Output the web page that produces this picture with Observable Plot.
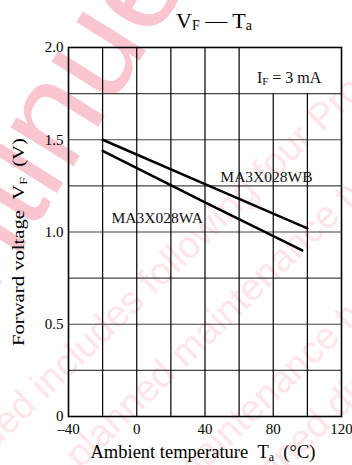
<!DOCTYPE html>
<html><head><meta charset="utf-8">
<script src="https://cdn.jsdelivr.net/npm/d3@7"></script>
<script src="https://cdn.jsdelivr.net/npm/@observablehq/plot@0.6"></script>
<style>
body{margin:0;background:#fff;}
#chart{position:relative;width:352px;height:465px;overflow:hidden;background:#fff;}
#chart svg{position:absolute;left:0;top:0;}
</style></head><body><div id="chart"></div>
<script>
// ---- data ----
const tempTicks = [-40, 0, 40, 80, 120];
const vfTicks = [0, 0.5, 1.0, 1.5, 2.0];
const gridTemps = [-20, 0, 20, 40, 60, 80, 100];
const gridVF = [0.25, 0.5, 0.75, 1.0, 1.25, 1.5, 1.75];
const wbTemp = [-20, 40, 100];
const wbVF = [1.50, 1.26, 1.02];
const waTemp = [-20, 40, 97];
const waVF = [1.44, 1.16, 0.90];
const seriesNames = ["MA3X028WB", "MA3X028WA"];
const seriesLabelTemp = [76, 12];
const seriesLabelVF = [1.30, 1.075];
const conditionTemp = 89.6;
const conditionVF = 1.83;

const wb = wbTemp.map((t, i) => ({t, v: wbVF[i]}));
const wa = waTemp.map((t, i) => ({t, v: waVF[i]}));
const labels = seriesNames.map((n, i) => ({n, t: seriesLabelTemp[i], v: seriesLabelVF[i]}));

const serif = "'Liberation Serif', 'Times New Roman', serif";
const chart = document.getElementById("chart");

// ---- watermark (background) ----
const wm = d3.select(chart).append("svg").attr("width", 352).attr("height", 465);
wm.append("text").attr("transform", "translate(-10,300) rotate(-58)")
  .attr("font-family", "'Liberation Sans', sans-serif").attr("font-size", 140)
  .attr("fill", "#f9c6d0").text("ntinued");
const wmLines = [
  ["Discontinued includes following four Product lifecycle stage.", -120, 560],
  ["planned maintenance type", 80, 470],
  ["maintenance type", 185, 490],
  ["planned discontinued typed", 235, 520]
];
wmLines.forEach(([s, x, y]) => {
  wm.append("text").attr("transform", `translate(${x},${y}) rotate(-44)`)
    .attr("font-family", "'Liberation Sans', sans-serif").attr("font-size", 38)
    .attr("fill", "#fde5ea").text(s);
});

// ---- plot ----
const plot = Plot.plot({
  width: 352, height: 465,
  marginLeft: 68, marginRight: 11, marginTop: 47, marginBottom: 49,
  style: {fontFamily: serif, fontSize: "15px", color: "#000", background: "transparent", overflow: "visible"},
  x: {domain: [-40, 120], label: null},
  y: {domain: [0, 2], label: null},
  marks: [
    Plot.ruleY(gridVF, {y: d => d, stroke: "#444", strokeWidth: 1.2}),
    Plot.ruleX(gridTemps, {x: d => d, y1: () => 0, y2: d => d <= 60 ? 2 : 1.75, stroke: "#000", strokeWidth: 1.2}),
    Plot.frame({stroke: "#000", strokeWidth: 1.6}),
    Plot.line(wb, {x: "t", y: "v", stroke: "#000", strokeWidth: 2.5}),
    Plot.line(wa, {x: "t", y: "v", stroke: "#000", strokeWidth: 2.5}),
    Plot.text(labels, {x: "t", y: "v", text: "n", fontSize: 15.5, fontFamily: serif, fill: "#111"}),
    Plot.axisX({ticks: tempTicks, tickSize: 0, tickPadding: 7, fontSize: 15,
      tickFormat: d => d < 0 ? "\u2013" + Math.abs(d) : String(d)}),
    Plot.axisY({ticks: vfTicks, tickSize: 0, tickPadding: 5, fontSize: 15,
      tickFormat: d => d === 0 ? "0" : d.toFixed(1)})
  ]
});
chart.appendChild(plot);

const svg = d3.select(plot);
const sx = plot.scale("x"), sy = plot.scale("y");

// condition label I_F = 3 mA
const cond = svg.append("text").attr("x", sx.apply(conditionTemp)).attr("y", sy.apply(conditionVF) + 5)
  .attr("text-anchor", "middle").attr("font-family", serif).attr("font-size", 16).attr("fill", "#111");
cond.append("tspan").text("I");
cond.append("tspan").attr("font-size", 11).attr("dy", 2).text("F");
cond.append("tspan").attr("dy", -2).text(" = 3 mA");

// title
const title = svg.append("text").attr("x", 214).attr("y", 28)
  .attr("text-anchor", "middle").attr("font-family", serif).attr("font-size", 22).attr("fill", "#000");
title.append("tspan").text("V");
title.append("tspan").attr("font-size", 14).attr("dy", 1.5).text("F");
title.append("tspan").attr("dy", -1.5).text(" \u2014 T");
title.append("tspan").attr("font-size", 14).attr("dy", 1.5).text("a");

// x label
const xl = svg.append("text").attr("x", 90.5).attr("y", 458).attr("text-anchor", "start")
  .attr("font-family", serif).attr("font-size", 18.5).attr("fill", "#000");
xl.append("tspan").text("Ambient temperature\u00a0\u00a0T");
xl.append("tspan").attr("font-size", 12).attr("dy", 3).text("a");
xl.append("tspan").attr("dy", -3).text("\u00a0\u00a0(\u00b0C)");

// y label (rotated)
const yg = svg.append("g");
const yl = yg.append("text").attr("text-anchor", "start").attr("font-family", serif).attr("font-size", 16.5).attr("fill", "#000");
yl.append("tspan").text("Forward voltage\u00a0\u00a0V");
yl.append("tspan").attr("font-size", 11).attr("dy", 3).text("F");
yl.append("tspan").attr("dy", -3).text("\u00a0\u00a0(V)");
const bb = yl.node().getBBox();
const k = 208 / bb.width;
yg.attr("transform", `translate(24,346) rotate(-90) scale(${k},1) translate(${-bb.x},0)`);
</script></body></html>
